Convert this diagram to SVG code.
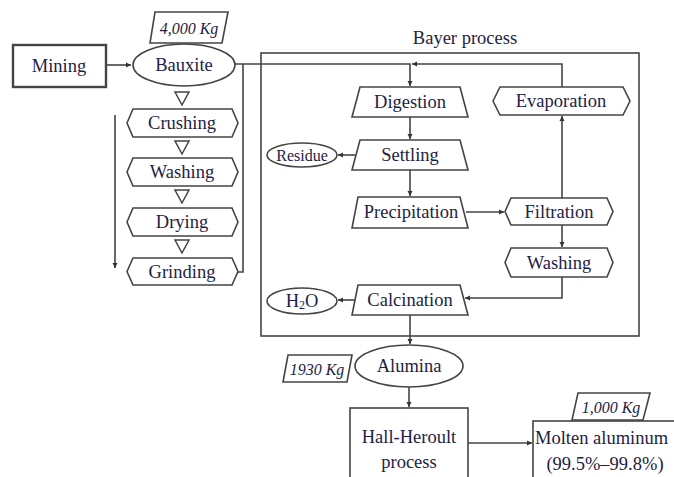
<svg xmlns="http://www.w3.org/2000/svg" width="674" height="477" viewBox="0 0 674 477">
<defs>
<marker id="ah" markerWidth="6" markerHeight="6" refX="5" refY="3" orient="auto" markerUnits="userSpaceOnUse">
<path d="M0,0.5 L5,3 L0,5.5 Z" fill="#333"/>
</marker>
<style>
.s{fill:#fff;stroke:#444;stroke-width:1.6}
.t{font-family:"Liberation Serif","Times New Roman",serif;font-size:18.5px;fill:#1e2245;text-anchor:middle;dominant-baseline:central}
.i{font-family:"Liberation Serif","Times New Roman",serif;font-size:16px;font-style:italic;fill:#1e2245;text-anchor:middle;dominant-baseline:central}
.c{fill:none;stroke:#444;stroke-width:1.6}
.tri{fill:#fff;stroke:#444;stroke-width:1.5}
</style>
</defs>
<rect width="674" height="477" fill="#fff"/>

<g id="bayer-box">
<rect x="261" y="53" width="378" height="283" fill="none" stroke="#444" stroke-width="1.6"/>
<text class="t" x="465" y="38">Bayer process</text>
</g>

<g id="connectors">
<path class="c" d="M106,65 H131" marker-end="url(#ah)"/>
<path class="c" d="M235,64 H410 V86" marker-end="url(#ah)"/>
<path class="c" d="M243,64 V272 H238"/>
<path class="c" d="M115,115 V268" marker-end="url(#ah)"/>
<path class="c" d="M562,87 V64 H412" marker-end="url(#ah)"/>
<path class="c" d="M410,117 V139" marker-end="url(#ah)"/>
<path class="c" d="M410,170 V196" marker-end="url(#ah)"/>
<path class="c" d="M355,155 H338" marker-end="url(#ah)"/>
<path class="c" d="M466,212 H504" marker-end="url(#ah)"/>
<path class="c" d="M562,198 V116" marker-end="url(#ah)"/>
<path class="c" d="M562,225 V247" marker-end="url(#ah)"/>
<path class="c" d="M562,277 V298 H465" marker-end="url(#ah)"/>
<path class="c" d="M355,300 H338" marker-end="url(#ah)"/>
<path class="c" d="M410,315 V344" marker-end="url(#ah)"/>
<path class="c" d="M409,387 V407" marker-end="url(#ah)"/>
<path class="c" d="M468,443 H532" marker-end="url(#ah)"/>
</g>

<g id="triangles">
<polygon class="tri" points="175,92 189,92 182,105"/>
<polygon class="tri" points="175,141 189,141 182,154"/>
<polygon class="tri" points="175,190 189,190 182,203"/>
<polygon class="tri" points="175,240 189,240 182,253"/>
</g>

<g id="mining">
<rect x="13" y="45" width="93" height="42" fill="#fff" stroke="#444" stroke-width="2.4"/>
<text class="t" x="59" y="66">Mining</text>
</g>
<g id="bauxite">
<ellipse class="s" cx="184" cy="65" rx="51" ry="21"/>
<text class="t" x="184" y="65">Bauxite</text>
</g>
<g id="bauxite-mass">
<polygon class="s" points="155,12 228,12 222,43 150,43"/>
<text class="i" x="189" y="28">4,000 Kg</text>
</g>
<g id="crushing">
<polygon class="s" points="127,123 133,109 232,109 238,123 232,137 133,137"/>
<text class="t" x="182" y="123">Crushing</text>
</g>
<g id="washing1">
<polygon class="s" points="127,172 133,158 232,158 238,172 232,186 133,186"/>
<text class="t" x="182" y="172">Washing</text>
</g>
<g id="drying">
<polygon class="s" points="127,222 133,208 232,208 238,222 232,236 133,236"/>
<text class="t" x="182" y="222">Drying</text>
</g>
<g id="grinding">
<polygon class="s" points="127,271.5 133,258 232,258 238,271.5 232,285 133,285"/>
<text class="t" x="182" y="271.5">Grinding</text>
</g>

<g id="digestion">
<polygon class="s" points="360,87 460,87 468,117 352,117"/>
<text class="t" x="410" y="102">Digestion</text>
</g>
<g id="settling">
<polygon class="s" points="360,140 460,140 468,170 352,170"/>
<text class="t" x="410" y="155">Settling</text>
</g>
<g id="residue">
<ellipse class="s" cx="302" cy="155" rx="35" ry="12"/>
<text class="t" x="302" y="155" style="font-size:16px">Residue</text>
</g>
<g id="precipitation">
<polygon class="s" points="358,197 460,197 468,228 352,228"/>
<text class="t" x="411" y="212">Precipitation</text>
</g>
<g id="calcination">
<polygon class="s" points="358,285 460,285 468,315 352,315"/>
<text class="t" x="410" y="300">Calcination</text>
</g>
<g id="h2o">
<ellipse class="s" cx="302" cy="301" rx="35" ry="13"/>
<text class="t" x="302" y="301">H<tspan dy="4" style="font-size:12px">2</tspan><tspan dy="-4">O</tspan></text>
</g>
<g id="evaporation">
<polygon class="s" points="493,101 500,87 623,87 630,101 623,115 500,115"/>
<text class="t" x="561" y="101">Evaporation</text>
</g>
<g id="filtration">
<polygon class="s" points="505,211.5 511,198 607,198 613,211.5 607,225 511,225"/>
<text class="t" x="559" y="211.5">Filtration</text>
</g>
<g id="washing2">
<polygon class="s" points="505,262.5 511,248 607,248 613,262.5 607,277 511,277"/>
<text class="t" x="559" y="262.5">Washing</text>
</g>

<g id="alumina">
<ellipse class="s" cx="409" cy="366" rx="54" ry="21"/>
<text class="t" x="409" y="366">Alumina</text>
</g>
<g id="alumina-mass">
<polygon class="s" points="288,355 352,355 347,382 283,382"/>
<text class="i" x="317" y="369">1930 Kg</text>
</g>
<g id="hall-heroult">
<rect class="s" x="350" y="408" width="118" height="80"/>
<text class="t" x="409" y="437">Hall-Heroult</text>
<text class="t" x="409" y="462">process</text>
</g>
<g id="molten-aluminum">
<rect class="s" x="533" y="421" width="160" height="70"/>
<text class="t" x="535" y="438" style="text-anchor:start">Molten aluminum</text>
<text class="t" x="605" y="464">(99.5%–99.8%)</text>
</g>
<g id="aluminum-mass">
<polygon class="s" points="578,393 650,393 643,420 572,420"/>
<text class="i" x="611" y="407">1,000 Kg</text>
</g>
</svg>
